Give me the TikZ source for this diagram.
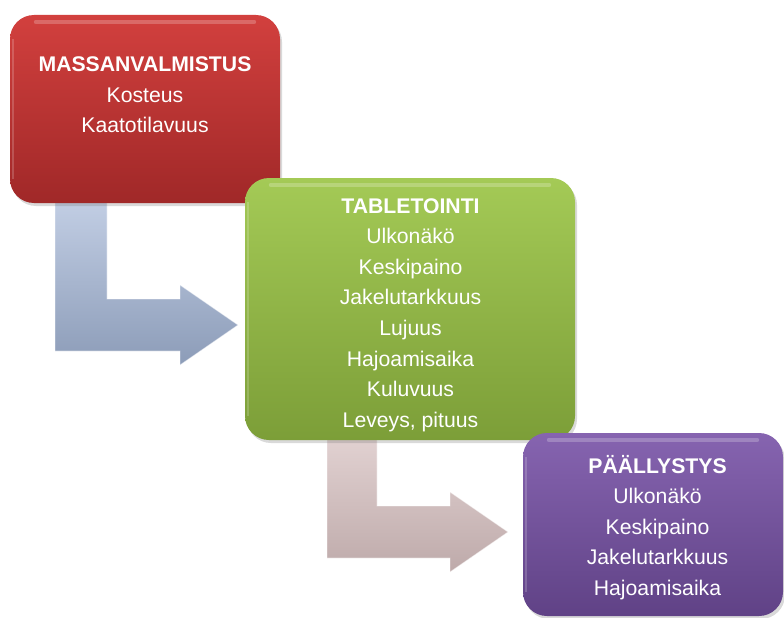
\documentclass[tikz,border=0pt]{standalone}
\usepackage{fontspec}
\setmainfont{Liberation Sans}
\usetikzlibrary{shadows,calc}
\definecolor{redT}{RGB}{210,64,62}
\definecolor{redB}{RGB}{160,40,40}
\definecolor{grnT}{RGB}{164,202,86}
\definecolor{grnB}{RGB}{124,158,56}
\definecolor{purT}{RGB}{134,100,176}
\definecolor{purB}{RGB}{96,66,134}
\definecolor{bluT}{RGB}{194,206,228}
\definecolor{bluB}{RGB}{140,156,184}
\definecolor{pnkT}{RGB}{226,210,210}
\definecolor{pnkB}{RGB}{190,170,170}
\begin{document}
\begin{tikzpicture}[x=1pt,y=-1pt,
  font=\fontsize{21.2}{24}\selectfont,
  box/.style={rounded corners=24pt, inner sep=0pt, draw=none,
    drop shadow={shadow xshift=2pt, shadow yshift=-3pt, opacity=0.3}},
  lbl/.style={text=white, anchor=base, inner sep=0pt},
  bflbl/.style={lbl, font=\fontsize{21.2}{24}\selectfont\bfseries},
  gloss/.style={white, opacity=0.22, line width=4pt, line cap=round},
  arrowshape/.style={draw=white, draw opacity=0.5, line width=0.8pt, line join=miter}]
\useasboundingbox (0,0) rectangle (784,618);

% bent arrows (drawn behind the boxes)
\shade[top color=bluT, bottom color=bluB, arrowshape]
  (55,200) -- (107,200) -- (107,299) -- (180,299) -- (180,285) -- (238,325)
  -- (180,365) -- (180,351) -- (55,351) -- cycle;
\shade[top color=pnkT, bottom color=pnkB, arrowshape]
  (327,435) -- (377,435) -- (377,506) -- (450,506) -- (450,492) -- (508,532)
  -- (450,572) -- (450,558) -- (327,558) -- cycle;

% boxes
\node[box, top color=redT, bottom color=redB, minimum width=270pt, minimum height=188pt]
  (red) at (145,109) {};
\node[box, top color=grnT, bottom color=grnB, minimum width=330pt, minimum height=262pt]
  (grn) at (410,309) {};
\node[box, top color=purT, bottom color=purB, minimum width=260pt, minimum height=183pt]
  (pur) at (653,524.5) {};

% glossy highlights
\foreach \b in {red,grn,pur}{
  \draw[gloss] ($(\b.north west)+(26,7)$) -- ($(\b.north east)+(-26,7)$);
  \draw[white, opacity=0.18, line width=1.5pt] ($(\b.north west)+(3,24)$) -- ($(\b.south west)+(3,-24)$);
}

% texts
\node[bflbl] (r0) at (145,71) {MASSANVALMISTUS};
\node[lbl] (r1) at (145,102) {Kosteus};
\node[lbl] (r2) at (145,132.5) {Kaatotilavuus};

\node[bflbl] (g0) at (410.5,213) {TABLETOINTI};
\node[lbl] (g1) at (410.5,243.6) {Ulkonäkö};
\node[lbl] (g2) at (410.5,274.2) {Keskipaino};
\node[lbl] (g3) at (410.5,304.8) {Jakelutarkkuus};
\node[lbl] (g4) at (410.5,335.4) {Lujuus};
\node[lbl] (g5) at (410.5,366.0) {Hajoamisaika};
\node[lbl] (g6) at (410.5,396.6) {Kuluvuus};
\node[lbl] (g7) at (410.5,427.2) {Leveys, pituus};

\node[bflbl] (p0) at (657.5,473) {PÄÄLLYSTYS};
\node[lbl] (p1) at (657.5,503.5) {Ulkonäkö};
\node[lbl] (p2) at (657.5,534) {Keskipaino};
\node[lbl] (p3) at (657.5,564.5) {Jakelutarkkuus};
\node[lbl] (p4) at (657.5,595) {Hajoamisaika};
\end{tikzpicture}
\end{document}
